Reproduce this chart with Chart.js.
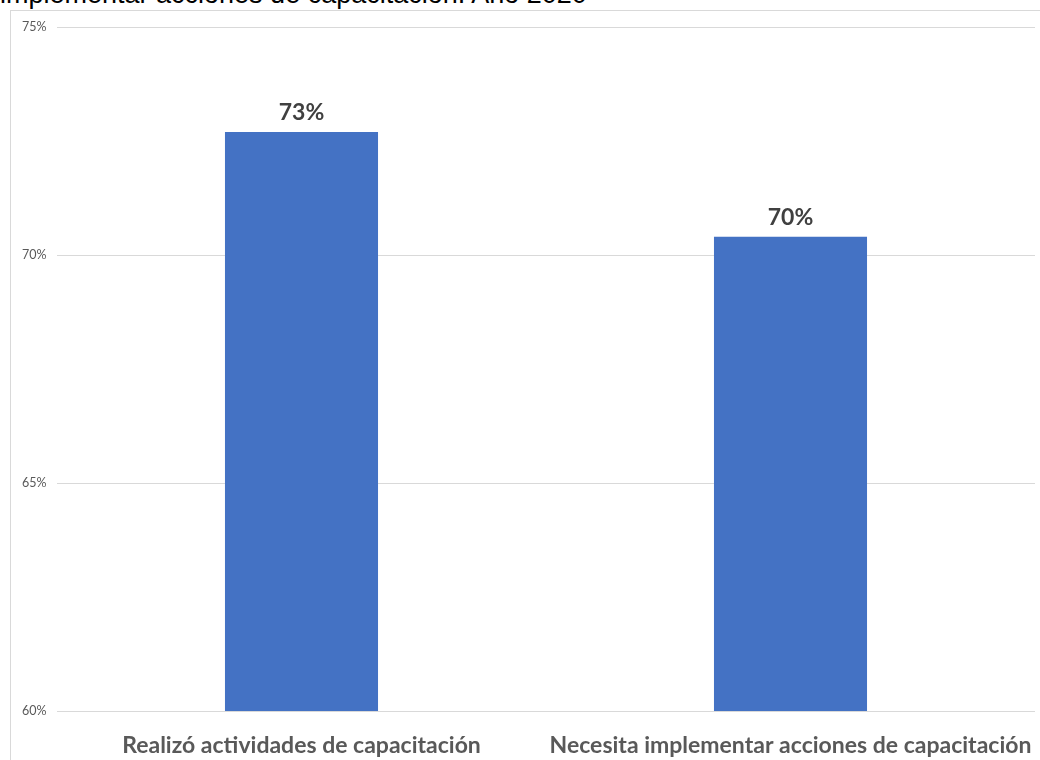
<!DOCTYPE html>
<html lang="es">
<head>
<meta charset="utf-8">
<title>Capacitación 2020</title>
<script src="https://cdn.jsdelivr.net/npm/chart.js@4.4.1/dist/chart.umd.min.js"></script>
<style>
    html, body { margin: 0; padding: 0; background: #ffffff; overflow: hidden; }
    body { width: 1040px; height: 760px; position: relative; }
    #titulo {
        position: absolute; left: 0; top: -21px;
        font-family: 'Liberation Sans', Arial, sans-serif;
        font-size: 27px; line-height: 30px; color: #000000;
        white-space: nowrap;
    }
    #marco {
        position: absolute; left: 10px; top: 10px;
        width: 1040px; height: 760px;
        border: 1px solid #d9d9d9; box-sizing: border-box;
    }
    #wrap { position: absolute; left: 0; top: 0; width: 1029px; height: 749px; }
</style>
</head>
<body>
<div id="titulo">implementar acciones de capacitación. Año 2020</div>
<div id="marco">
    <div id="wrap"><canvas id="barChart"></canvas></div>
</div>
<script>
// Datos
const categorias = ['Realizó actividades de capacitación', 'Necesita implementar acciones de capacitación'];
const porcentajes = [72.7, 70.4];
const ticksY = [60, 65, 70, 75];

Chart.defaults.font.family = "'Lato', 'Open Sans', sans-serif";
Chart.defaults.color = '#595959';

// Etiquetas de valor sobre cada barra
const etiquetasValor = {
    id: 'etiquetasValor',
    afterDatasetsDraw(chart) {
        const { ctx } = chart;
        const meta = chart.getDatasetMeta(0);
        ctx.save();
        ctx.font = "bold 23px 'Lato', sans-serif";
        ctx.fillStyle = '#404040';
        ctx.textAlign = 'center';
        ctx.textBaseline = 'bottom';
        meta.data.forEach((bar, i) => {
            const v = chart.data.datasets[0].data[i];
            ctx.fillText(Math.round(v) + '%', bar.x, bar.y - 8);
        });
        ctx.restore();
    }
};

const ctx = document.getElementById('barChart').getContext('2d');
new Chart(ctx, {
    type: 'bar',
    data: {
        labels: categorias,
        datasets: [{
            data: porcentajes,
            backgroundColor: '#4472c4',
            borderWidth: 0,
            barPercentage: 0.626,
            categoryPercentage: 0.5
        }]
    },
    options: {
        responsive: true,
        maintainAspectRatio: false,
        animation: false,
        layout: { padding: { top: 16, right: 5, left: 11, bottom: 0 } },
        plugins: {
            legend: { display: false },
            tooltip: { enabled: false }
        },
        scales: {
            y: {
                min: 60,
                max: 75,
                afterBuildTicks: (axis) => { axis.ticks = ticksY.map(v => ({ value: v })); },
                afterFit: (axis) => { axis.width = 35; },
                border: { display: false },
                grid: { color: '#d9d9d9', lineWidth: 1, drawTicks: false },
                ticks: {
                    padding: 0,
                    crossAlign: 'far',
                    font: { size: 12.5 },
                    color: '#595959',
                    callback: (v) => v + '%'
                }
            },
            x: {
                afterFit: (axis) => { axis.height = 49; },
                border: { display: false },
                grid: { display: false, drawTicks: true, tickLength: 21 },
                ticks: {
                    padding: 0,
                    maxRotation: 0,
                    autoSkip: false,
                    font: { size: 23, weight: 'bold' },
                    color: '#595959'
                }
            }
        }
    },
    plugins: [etiquetasValor]
});
</script>
</body>
</html>
